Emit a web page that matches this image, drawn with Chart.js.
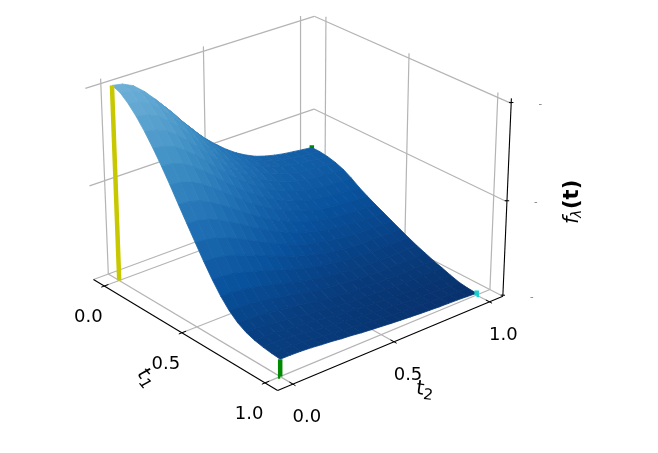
<!DOCTYPE html>
<html>
<head>
<meta charset="utf-8">
<style>
body { margin: 0; background: #fff; }
canvas { display: block; }
</style>
<script src="https://cdn.jsdelivr.net/npm/chart.js@4"></script>
</head>
<body>
<canvas id="chart-1" width="658" height="453"></canvas>
<script>
// values
var t1Values = [0, 0.05, 0.1, 0.15, 0.2, 0.25, 0.3, 0.35, 0.4, 0.45, 0.5, 0.55, 0.6, 0.65, 0.7, 0.75, 0.8, 0.85, 0.9, 0.95, 1];
var t2Values = [0, 0.05, 0.1, 0.15, 0.2, 0.25, 0.3, 0.35, 0.4, 0.45, 0.5, 0.55, 0.6, 0.65, 0.7, 0.75, 0.8, 0.85, 0.9, 0.95, 1];
// surfaceValues[i][j] is f at t1Values[i], t2Values[j]
var surfaceValues = [
    [1.02, 1.01, 0.985, 0.94, 0.885, 0.825, 0.76, 0.7, 0.64, 0.587, 0.54, 0.497, 0.46, 0.43, 0.405, 0.388, 0.375, 0.365, 0.358, 0.351, 0.345],
    [1.005, 0.995, 0.971, 0.927, 0.873, 0.814, 0.749, 0.69, 0.631, 0.579, 0.534, 0.491, 0.456, 0.426, 0.401, 0.384, 0.372, 0.363, 0.357, 0.349, 0.344],
    [0.97, 0.96, 0.937, 0.894, 0.843, 0.786, 0.725, 0.667, 0.611, 0.561, 0.517, 0.477, 0.44, 0.413, 0.39, 0.375, 0.364, 0.354, 0.348, 0.343, 0.338],
    [0.925, 0.916, 0.894, 0.853, 0.804, 0.749, 0.691, 0.637, 0.583, 0.536, 0.494, 0.456, 0.422, 0.395, 0.374, 0.36, 0.349, 0.341, 0.336, 0.331, 0.327],
    [0.87, 0.861, 0.84, 0.802, 0.756, 0.705, 0.65, 0.6, 0.548, 0.504, 0.465, 0.43, 0.398, 0.374, 0.353, 0.34, 0.33, 0.322, 0.318, 0.313, 0.31],
    [0.808, 0.8, 0.781, 0.745, 0.702, 0.655, 0.603, 0.556, 0.509, 0.468, 0.431, 0.397, 0.368, 0.346, 0.327, 0.314, 0.305, 0.298, 0.293, 0.289, 0.285],
    [0.74, 0.733, 0.715, 0.682, 0.642, 0.599, 0.551, 0.508, 0.465, 0.427, 0.392, 0.362, 0.336, 0.314, 0.296, 0.284, 0.275, 0.269, 0.264, 0.26, 0.255],
    [0.667, 0.66, 0.644, 0.615, 0.579, 0.54, 0.497, 0.458, 0.419, 0.385, 0.354, 0.327, 0.303, 0.283, 0.267, 0.256, 0.248, 0.243, 0.238, 0.234, 0.23],
    [0.59, 0.584, 0.57, 0.544, 0.512, 0.477, 0.44, 0.405, 0.371, 0.34, 0.314, 0.289, 0.269, 0.253, 0.238, 0.228, 0.222, 0.216, 0.214, 0.21, 0.207],
    [0.515, 0.51, 0.497, 0.475, 0.447, 0.417, 0.384, 0.353, 0.323, 0.297, 0.273, 0.252, 0.236, 0.221, 0.209, 0.202, 0.197, 0.192, 0.189, 0.187, 0.185],
    [0.44, 0.436, 0.425, 0.406, 0.382, 0.356, 0.328, 0.302, 0.276, 0.253, 0.233, 0.214, 0.203, 0.191, 0.181, 0.175, 0.171, 0.168, 0.166, 0.164, 0.163],
    [0.367, 0.363, 0.355, 0.339, 0.319, 0.298, 0.275, 0.253, 0.232, 0.214, 0.197, 0.183, 0.171, 0.162, 0.153, 0.149, 0.146, 0.144, 0.142, 0.142, 0.141],
    [0.298, 0.295, 0.288, 0.274, 0.26, 0.242, 0.224, 0.206, 0.19, 0.174, 0.161, 0.149, 0.141, 0.133, 0.127, 0.124, 0.122, 0.12, 0.12, 0.12, 0.12],
    [0.237, 0.235, 0.229, 0.219, 0.206, 0.192, 0.179, 0.165, 0.151, 0.14, 0.13, 0.12, 0.114, 0.108, 0.103, 0.101, 0.1, 0.099, 0.099, 0.099, 0.1],
    [0.187, 0.185, 0.181, 0.173, 0.164, 0.153, 0.141, 0.13, 0.12, 0.11, 0.103, 0.096, 0.09, 0.086, 0.082, 0.081, 0.08, 0.08, 0.081, 0.081, 0.082],
    [0.15, 0.149, 0.145, 0.138, 0.13, 0.122, 0.113, 0.104, 0.096, 0.088, 0.082, 0.076, 0.073, 0.069, 0.066, 0.065, 0.064, 0.064, 0.064, 0.065, 0.065],
    [0.125, 0.124, 0.121, 0.115, 0.109, 0.101, 0.093, 0.086, 0.078, 0.073, 0.067, 0.062, 0.059, 0.056, 0.054, 0.053, 0.052, 0.051, 0.05, 0.05, 0.05],
    [0.11, 0.109, 0.106, 0.101, 0.095, 0.089, 0.082, 0.074, 0.068, 0.062, 0.057, 0.052, 0.049, 0.045, 0.043, 0.04, 0.038, 0.036, 0.036, 0.035, 0.034],
    [0.1, 0.099, 0.097, 0.092, 0.086, 0.08, 0.074, 0.067, 0.061, 0.055, 0.049, 0.045, 0.04, 0.036, 0.033, 0.03, 0.028, 0.026, 0.024, 0.021, 0.02],
    [0.094, 0.093, 0.091, 0.087, 0.081, 0.075, 0.068, 0.062, 0.056, 0.05, 0.045, 0.041, 0.036, 0.032, 0.028, 0.026, 0.023, 0.021, 0.018, 0.016, 0.013],
    [0.09, 0.089, 0.087, 0.083, 0.077, 0.072, 0.065, 0.06, 0.053, 0.048, 0.043, 0.038, 0.034, 0.03, 0.026, 0.023, 0.02, 0.018, 0.016, 0.013, 0.01]
];
var tTicks = [0, 0.5, 1];
var tTickLabels = ['0.0', '0.5', '1.0'];
var zTicks = [0, 0.5, 1];
var zTickLabels = ['-', '-', '-'];
var tLim = [-0.0729, 1.0729];
var zLim = [0, 1.025];
var blues = ['#08306b', '#08519c', '#2171b5', '#4292c6', '#6baed6', '#9ecae1'];

var grey = '#b4b4b4';

// camera, same maths as a matplotlib 3d axes
var elev = 27 * Math.PI / 180;
var azim = -40 * Math.PI / 180;
var dist = 10;
var boxHalf = [0.5714, 0.5714, 0.4457];
var look = [Math.cos(elev) * Math.cos(azim), Math.cos(elev) * Math.sin(azim), Math.sin(elev)];
var right = [-Math.sin(azim), Math.cos(azim), 0];
var up = [-Math.sin(elev) * Math.cos(azim), -Math.sin(elev) * Math.sin(azim), Math.cos(elev)];

function project(t1, t2, z) {
    var qx = ((t1 - tLim[0]) / (tLim[1] - tLim[0]) * 2 - 1) * boxHalf[0];
    var qy = ((t2 - tLim[0]) / (tLim[1] - tLim[0]) * 2 - 1) * boxHalf[1];
    var qz = ((z - zLim[0]) / (zLim[1] - zLim[0]) * 2 - 1) * boxHalf[2];
    var d = dist - (look[0] * qx + look[1] * qy + look[2] * qz);
    return {
        x: (right[0] * qx + right[1] * qy) / d,
        y: (up[0] * qx + up[1] * qy + up[2] * qz) / d
    };
}

function lineSet(points, color, width, label) {
    return {
        label: label || '',
        data: points,
        showLine: true,
        pointRadius: 0,
        borderColor: color,
        borderWidth: width,
        borderCapStyle: 'butt',
        tension: 0
    };
}

function segment(a, b, color, width, label) {
    return lineSet([project(a[0], a[1], a[2]), project(b[0], b[1], b[2])], color, width, label);
}

var lo = tLim[0], hi = tLim[1];
var front = [];
var back = [];

// bars at the corners: the front ones go over the surface, the far green one under it
var last = t1Values.length - 1;
front.push(segment([t1Values[0], t2Values[0], 0], [t1Values[0], t2Values[0], surfaceValues[0][0]], '#c8c800', 4.5));
front.push(segment([t1Values[last], t2Values[0], 0], [t1Values[last], t2Values[0], surfaceValues[last][0]], '#008a00', 4.5));
front.push(segment([t1Values[last], t2Values[last], 0], [t1Values[last], t2Values[last], surfaceValues[last][last] + 0.015], '#17d0d0', 4.5, 'front'));
back.push(segment([t1Values[0], t2Values[last], surfaceValues[0][last] - 0.02], [t1Values[0], t2Values[last], surfaceValues[0][last] + 0.012], '#008a00', 4.5));

// grid on the panes
tTicks.forEach(function(t) {
    back.push(segment([t, lo, 0], [t, hi, 0], grey, 1.2));
    back.push(segment([lo, t, 0], [hi, t, 0], grey, 1.2));
    back.push(segment([t, hi, 0], [t, hi, zLim[1]], grey, 1.2));
    back.push(segment([lo, t, 0], [lo, t, zLim[1]], grey, 1.2));
});
zTicks.forEach(function(z) {
    back.push(segment([lo, lo, z], [lo, hi, z], grey, 1.2));
    back.push(segment([lo, hi, z], [hi, hi, z], grey, 1.2));
});

// black axes and ticks
var axisSets = [
    segment([lo, lo, 0], [hi, lo, 0], '#000', 1.1),
    segment([hi, lo, 0], [hi, hi, 0], '#000', 1.1),
    segment([hi, hi, 0], [hi, hi, zLim[1]], '#000', 1.1)
];
tTicks.forEach(function(t) {
    axisSets.push(segment([t, lo - 0.015, 0], [t, lo + 0.02, 0], '#000', 1));
    axisSets.push(segment([hi + 0.015, t, 0], [hi - 0.02, t, 0], '#000', 1));
});
zTicks.forEach(function(z) {
    axisSets.push(segment([hi - 0.012, hi, z], [hi, hi + 0.012, z], '#000', 1));
});

function colorFor(value) {
    // Blues reversed, the top of the surface only gets half way up the map
    var pos = Math.min(value * 0.5, 0.62) / 0.125;
    var k = Math.floor(pos);
    var f = pos - k;
    var a = parseInt(blues[k].slice(1), 16);
    var b = parseInt(blues[Math.min(k + 1, blues.length - 1)].slice(1), 16);
    var r = Math.round((a >> 16) * (1 - f) + (b >> 16) * f);
    var g = Math.round(((a >> 8) & 255) * (1 - f) + ((b >> 8) & 255) * f);
    var bl = Math.round((a & 255) * (1 - f) + (b & 255) * f);
    return 'rgb(' + r + ',' + g + ',' + bl + ')';
}

function drawSurface(chart) {
    var ctx = chart.ctx;
    var sx = chart.scales.x;
    var sy = chart.scales.y;
    function corner(i, j) {
        var p = project(t1Values[i], t2Values[j], surfaceValues[i][j]);
        return [sx.getPixelForValue(p.x), sy.getPixelForValue(p.y)];
    }
    ctx.save();
    ctx.lineWidth = 0.8;
    // far cells first
    for (var i = 0; i < t1Values.length - 1; i++) {
        for (var j = t2Values.length - 2; j >= 0; j--) {
            var cell = [corner(i, j), corner(i + 1, j), corner(i + 1, j + 1), corner(i, j + 1)];
            var mean = (surfaceValues[i][j] + surfaceValues[i + 1][j] + surfaceValues[i + 1][j + 1] + surfaceValues[i][j + 1]) / 4;
            ctx.fillStyle = colorFor(mean);
            ctx.strokeStyle = ctx.fillStyle;
            ctx.beginPath();
            ctx.moveTo(cell[0][0], cell[0][1]);
            for (var c = 1; c < 4; c++) {
                ctx.lineTo(cell[c][0], cell[c][1]);
            }
            ctx.closePath();
            ctx.fill();
            ctx.stroke();
        }
    }
    ctx.restore();
}

function subscripted(ctx, base, sub, font, subFont, x, y, angle) {
    ctx.save();
    ctx.translate(x, y);
    ctx.rotate(angle * Math.PI / 180);
    ctx.textAlign = 'left';
    ctx.textBaseline = 'alphabetic';
    ctx.font = font;
    ctx.fillText(base, -9, 5);
    ctx.font = subFont;
    ctx.fillText(sub, -1, 9);
    ctx.restore();
}

function drawLabels(chart) {
    var ctx = chart.ctx;
    var sx = chart.scales.x;
    var sy = chart.scales.y;
    function at(t1, t2, z) {
        var p = project(t1, t2, z);
        return [sx.getPixelForValue(p.x), sy.getPixelForValue(p.y)];
    }
    ctx.save();
    ctx.fillStyle = '#000';
    ctx.textAlign = 'center';
    ctx.textBaseline = 'middle';
    ctx.font = '18px "DejaVu Sans"';
    tTicks.forEach(function(t, i) {
        var p = at(t, lo, 0);
        ctx.fillText(tTickLabels[i], p[0] - 16, p[1] + 31.5);
        p = at(hi, t, 0);
        ctx.fillText(tTickLabels[i], p[0] + 14, p[1] + 33.5);
    });
    ctx.fillStyle = '#808080';
    ctx.font = '10px "DejaVu Sans"';
    zTicks.forEach(function(z, i) {
        var p = at(hi, hi, z);
        ctx.fillText(zTickLabels[i], p[0] + 29, p[1] + 1);
    });
    ctx.fillStyle = '#000';

    subscripted(ctx, 't', '1', 'italic 20px "DejaVu Sans"', 'italic 15px "DejaVu Sans"', 146, 378, 50);
    subscripted(ctx, 't', '2', '20px "DejaVu Sans"', '15px "DejaVu Sans"', 425, 390, 8);

    ctx.save();
    ctx.translate(572, 224);
    ctx.rotate(-Math.PI / 2);
    ctx.textAlign = 'left';
    ctx.textBaseline = 'alphabetic';
    ctx.font = 'italic 21px "DejaVu Sans"';
    ctx.fillText('f', 0, 6);
    ctx.font = 'italic 14px "DejaVu Sans"';
    ctx.fillText('\u03bb', 6, 9);
    ctx.font = 'bold 21px "DejaVu Sans"';
    ctx.fillText('(t)', 15, 6);
    ctx.restore();
    ctx.restore();
}

var surfacePlugin = {
    id: 'surface',
    beforeDatasetDraw: function(chart, args) {
        if (args.meta.label === 'front') {
            drawSurface(chart);
        }
    },
    afterDraw: function(chart) {
        drawLabels(chart);
    }
};

// datasets paint from last to first
var allSets = axisSets.concat(front).concat(back);

var surfaceChart = new Chart(document.getElementById('chart-1'), {
    type: 'scatter',
    data: { datasets: allSets },
    options: {
        responsive: false,
        animation: false,
        layout: { padding: 0 },
        plugins: { legend: { display: false }, tooltip: { enabled: false } },
        scales: {
            x: { type: 'linear', display: false, min: -0.11446, max: 0.13921 },
            y: { type: 'linear', display: false, min: -0.10561, max: 0.0772 }
        }
    },
    plugins: [surfacePlugin]
});
</script>
</body>
</html>
